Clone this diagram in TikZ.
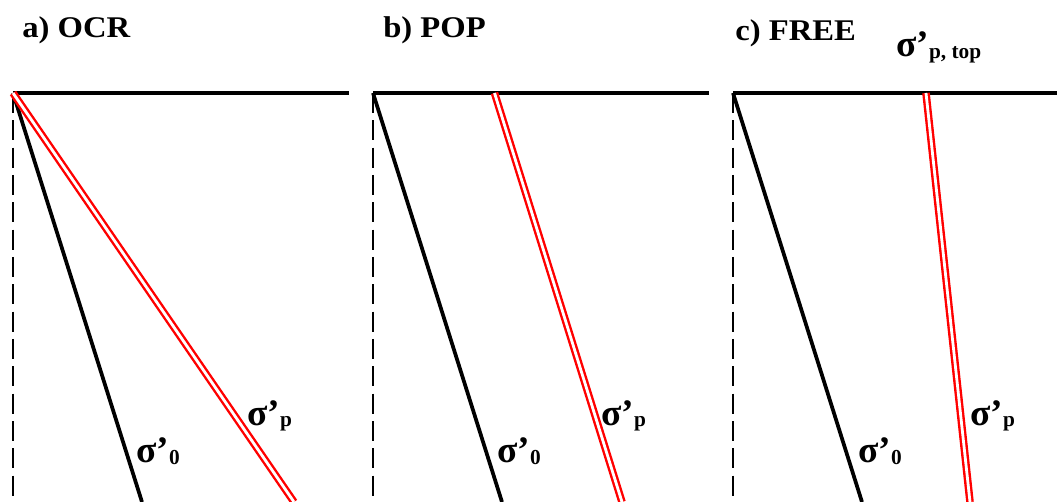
\documentclass[tikz,border=0pt]{standalone}
\usepackage{fontspec}
\setmainfont{Liberation Serif}
\begin{document}
\begin{tikzpicture}[x=0.75pt,y=-0.75pt,
  axis/.style={line width=2.4pt},
  depth/.style={line width=2.2pt,dash pattern=on 15pt off 5.5pt},
  sig0/.style={line width=2.8pt},
  sigp/.style={draw=red,double=white,line width=1.8pt,double distance=2.1pt},
  title/.style={inner sep=0pt,anchor=base west,font=\fontsize{24.5}{24.5}\selectfont\bfseries},
  lab/.style={inner sep=0pt,anchor=base west,font=\fontsize{28}{28}\selectfont\bfseries}
]
\newcommand{\sub}[1]{\raisebox{-1.5pt}{\fontsize{16}{16}\selectfont\bfseries #1}}
\newcommand{\ttl}[1]{\scalebox{1}[0.92]{#1}}
\useasboundingbox (0,0) rectangle (1057,502);
% panel a
\coordinate (oa) at (13,93);
\coordinate (ea) at (349,93);
\coordinate (da) at (13,502);
\coordinate (ba) at (142,502);
\coordinate (ra) at (294,502);
\draw[depth] (oa) -- (da);
\draw[axis] (oa) -- (ea);
\draw[sig0] (oa) -- (ba);
\draw[sigp] (oa) -- (ra);
\node[title] (ta) at (22,38) {\ttl{a) OCR}};
\node[lab] (la0) at (136,462) {σ’\sub{0}};
\node[lab] (lap) at (247,425) {σ’\sub{p}};
% panel b
\coordinate (ob) at (373,93);
\coordinate (eb) at (709,93);
\coordinate (db) at (373,502);
\coordinate (bb) at (502,502);
\coordinate (rtb) at (494.5,93);
\coordinate (rb) at (622,502);
\draw[depth] (ob) -- (db);
\draw[axis] (ob) -- (eb);
\draw[sig0] (ob) -- (bb);
\draw[sigp] (rtb) -- (rb);
\node[title] (tb) at (383,38) {\ttl{b) POP}};
\node[lab] (lb0) at (497,462) {σ’\sub{0}};
\node[lab] (lbp) at (601,425) {σ’\sub{p}};
% panel c
\coordinate (oc) at (733,93);
\coordinate (ec) at (1057,93);
\coordinate (dc) at (733,502);
\coordinate (bc) at (862,502);
\coordinate (rtc) at (926,93);
\coordinate (rc) at (970,502);
\draw[depth] (oc) -- (dc);
\draw[axis] (oc) -- (ec);
\draw[sig0] (oc) -- (bc);
\draw[sigp] (rtc) -- (rc);
\node[title] (tc) at (735,41) {\ttl{c) FREE}};
\node[lab] (lc0) at (858,462) {σ’\sub{0}};
\node[lab] (lcp) at (970,425) {σ’\sub{p}};
\node[lab] (lct) at (896,57) {σ’\sub{p, top}};
\end{tikzpicture}
\end{document}
